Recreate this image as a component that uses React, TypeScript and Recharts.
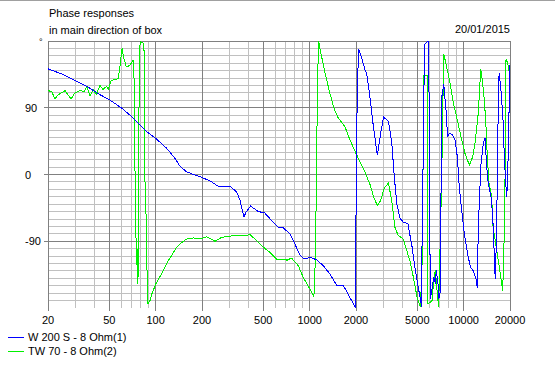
import React from 'react';
import { LineChart, Line, XAxis, YAxis, CartesianGrid } from 'recharts';

const freqTicks = [20, 50, 100, 200, 500, 1000, 2000, 5000, 10000, 20000];
const minorFreqs = [30, 40, 60, 70, 80, 90, 300, 400, 600, 700, 800, 900, 3000, 4000, 6000, 7000, 8000, 9000];
const phaseTicks = [-90, 0, 90];
const majorPhases = [-90, 0, 90, 180];
const minorPhases = [-170, -160, -150, -140, -130, -120, -110, -100, -80, -70, -60, -50, -40, -30, -20, -10,
  10, 20, 30, 40, 50, 60, 70, 80, 100, 110, 120, 130, 140, 150, 160, 170];

const titleLine1 = 'Phase responses';
const titleLine2 = 'in main direction of box';
const dateText = '20/01/2015';
const seriesNames = ['W 200 S - 8 Ohm(1)', 'TW 70 - 8 Ohm(2)'];
const seriesColors = ['#0000ff', '#00f000'];

// [frequency Hz, phase deg]
const w200: [number, number][] = [
  [20, 142.5], [25.1, 134.8], [30.7, 125.7], [35.7, 118.9], [43.5, 107.6], [50, 100.9], [60.2, 89.6], [71.6, 76],
  [87.4, 57.8], [100, 48.9], [118, 35.3], [133.6, 21.7], [143.8, 11.3], [158.8, 3.5], [194, -3], [215, -6.8],
  [231, -10], [255, -15.9], [304, -15.9], [336, -23.6], [353, -34.9], [375, -57.5], [386, -50.7], [414, -42.6],
  [463, -49.8], [512, -52], [566, -62], [626, -71], [675, -72], [744, -80], [802, -93.7], [856, -107], [918, -114],
  [1006, -111.8], [1110, -115], [1226, -123], [1352, -134], [1494, -149], [1650, -149], [1778, -161.5], [1990, -180],
  [2005, -3], [2040, 112], [2078, 168.7], [2178, 157.5], [2283, 141.6], [2344, 137], [2480, 100], [2560, 73.7],
  [2667, 46.6], [2752, 26], [2892, 55.6], [3023, 77.4], [3252, 71.4], [3418, 42], [3538, -1], [3682, -39.4],
  [3872, -59.7], [4067, -64.3], [4346, -66.5], [4620, -97], [4810, -124], [4978, -142], [5154, -160], [5290, -173],
  [5340, -178], [5380, -57], [5486, 43], [5560, 173], [5620, 176], [5760, 178], [5916, 180], [5960, 110], [6000, 0],
  [6076, -168], [6232, -155], [6392, -138], [6546, -147], [6650, -129], [6812, -147], [6900, -168], [7024, -161.5],
  [7232, 106], [7422, 122], [7716, 83], [7850, 52], [8152, 55.6], [8492, 53], [8790, 46.6], [9096, 24], [9372, -17],
  [9712, -48.5], [10050, -75.6], [10352, -93.7], [10716, -111.8], [11108, -125.4], [11550, -130], [12024, -141],
  [12276, -152.6], [12446, -71], [12766, -17], [12972, 15], [13428, 42], [13774, 49], [14126, 10], [14456, -12],
  [15068, -30], [15454, -57.5], [15742, -98], [15814, -121], [16070, -141], [16408, -66.5], [16636, 46.6],
  [16984, 137], [17420, 116.7], [17662, 101], [18072, 69], [18366, 24], [18752, -12], [19052, -30], [19320, -3],
  [19704, 82.8], [20000, 148],
];

const tw70: [number, number][] = [
  [20, 113], [21.1, 112], [22.2, 102], [23.3, 107.6], [25.8, 113], [26.4, 110], [28.2, 101.8], [29.9, 110],
  [32.3, 113], [34.4, 112], [35.7, 119], [37.5, 106], [39.5, 114.4], [41.1, 107.6], [43.5, 120], [45.5, 114.4],
  [48, 119], [49.2, 114.4], [51.1, 125.7], [53.5, 128], [57, 129], [58.4, 142.5], [60.5, 170], [62.3, 156],
  [64.5, 145], [67.9, 147], [71.3, 154], [72.4, 129], [73.1, 52], [73.8, -38.5], [74.9, -106], [75.5, -122],
  [76, -100], [76.8, -147], [77.6, 52], [78.8, 170], [79.5, 179], [84, 176.5], [84.8, 7], [87, -66], [87.9, -129],
  [89.2, -174], [92, -170], [93.7, -163], [100, -148], [112, -130], [121, -116], [129, -107], [137, -98],
  [143.8, -93.7], [158.8, -87], [175.5, -85.5], [192, -87], [215, -84], [243, -90], [268, -84.7], [320, -82.4],
  [380, -82.4], [410, -81], [452, -89], [500, -98], [553, -105], [610, -114], [716, -115.4], [763, -112.7],
  [844, -123], [910, -139], [1006, -154.7], [1066, -165], [1086, -121], [1103, -35], [1114, 51], [1131, 141.6],
  [1143, 180], [1170, 168.7], [1258, 137], [1352, 110], [1448, 87.3], [1536, 76], [1694, 64.6], [1826, 46.6],
  [2000, 28.5], [2120, 17], [2283, 3.5], [2472, -14], [2600, -30], [2752, -42], [2892, -35], [3040, -19],
  [3244, -11.4], [3412, -35], [3576, -71], [3766, -82.4], [4058, -87], [4278, -102.8], [4500, -118], [4732, -140],
  [4978, -165], [5240, -179], [5366, -124], [5528, 133], [5790, 133], [5860, -174], [5916, -174], [6232, -170],
  [6392, -142.5], [6546, -129], [6720, -156], [6880, -179], [7200, -6], [7422, 163], [7850, 140], [8152, 123.5],
  [8570, 96.4], [9096, 73.7], [9712, 46.6], [10204, 28.5], [10886, 12.6], [11452, 24], [11852, 42], [12446, 82.8],
  [12906, 141.6], [13220, 128], [13556, 105], [13908, 73.7], [14244, 24], [14610, -12], [15216, -30],
  [15450, -66.5], [16148, -93.7], [16790, -116], [17420, -139], [17940, -157], [18280, -93.7], [18570, -3],
  [18840, 155], [19320, 150.7], [19800, 137], [20000, 145],
];

const FONT = '"Liberation Sans", Arial, sans-serif';

const toPoints = (arr: [number, number][]) => arr.map(([f, p]) => ({ f, p }));

const FreqTick = (props: any) => {
  const { x, y, payload } = props;
  return (
    <g>
      <line x1={x} x2={x} y1={y} y2={y + 3} stroke="#808080" shapeRendering="crispEdges" />
      <text x={x} y={y + 16} textAnchor="middle" fill="#000" fontSize={11} fontFamily={FONT}>
        {payload.value}
      </text>
    </g>
  );
};

const PhaseTick = (props: any) => {
  const { x, y, payload } = props;
  return (
    <g>
      <line x1={x - 4} x2={x} y1={y} y2={y} stroke="#808080" shapeRendering="crispEdges" />
      <text x={x - 23} y={y + 4} textAnchor="start" fill="#000" fontSize={11} fontFamily={FONT}>
        {payload.value}
      </text>
    </g>
  );
};

const textStyle: React.CSSProperties = {
  position: 'absolute',
  fontFamily: FONT,
  fontSize: 11,
  lineHeight: '13px',
  color: '#000',
  whiteSpace: 'nowrap',
};

export default function App() {
  const blue = toPoints(w200);
  const green = toPoints(tw70);
  return (
    <div style={{ position: 'absolute', left: 0, top: 0, width: 555, height: 370, background: '#fff', overflow: 'hidden' }}>
      <div style={{ position: 'absolute', left: 0, top: 0, width: 555, height: 1, background: '#a0a0a0' }} />
      <LineChart width={555} height={370} margin={{ top: 41, right: 45, bottom: 0, left: 0 }}>
        <CartesianGrid verticalValues={minorFreqs} horizontalValues={minorPhases} stroke="#c0c0c0" shapeRendering="crispEdges" />
        <CartesianGrid verticalValues={freqTicks} horizontalValues={majorPhases} stroke="#808080" shapeRendering="crispEdges" />
        <XAxis
          dataKey="f"
          type="number"
          scale="log"
          domain={[20, 20000]}
          ticks={freqTicks}
          interval={0}
          height={62}
          tickSize={0}
          tickMargin={0}
          axisLine={false}
          tickLine={false}
          tick={<FreqTick />}
          allowDataOverflow
        />
        <YAxis
          type="number"
          domain={[-180, 180]}
          ticks={phaseTicks}
          interval={0}
          width={48}
          tickSize={0}
          tickMargin={0}
          axisLine={false}
          tickLine={false}
          tick={<PhaseTick />}
          allowDataOverflow
        />
        <Line data={green} dataKey="p" type="linear" stroke={seriesColors[1]} strokeWidth={1} dot={false} isAnimationActive={false} shapeRendering="crispEdges" />
        <Line data={blue} dataKey="p" type="linear" stroke={seriesColors[0]} strokeWidth={1} dot={false} isAnimationActive={false} shapeRendering="crispEdges" />
      </LineChart>
      <div style={{ ...textStyle, left: 49, top: 7 }}>{titleLine1}</div>
      <div style={{ ...textStyle, left: 49, top: 23.5 }}>{titleLine2}</div>
      <div style={{ ...textStyle, right: 45, top: 23 }}>{dateText}</div>
      <div style={{ ...textStyle, left: 39, top: 36, fontSize: 9 }}>°</div>
      {seriesNames.map((name, i) => (
        <React.Fragment key={name}>
          <div style={{ position: 'absolute', left: 8, top: 337 + i * 13.5, width: 16, height: 1, background: seriesColors[i] }} />
          <div style={{ ...textStyle, left: 28, top: 331 + i * 13.5 }}>{name}</div>
        </React.Fragment>
      ))}
    </div>
  );
}
